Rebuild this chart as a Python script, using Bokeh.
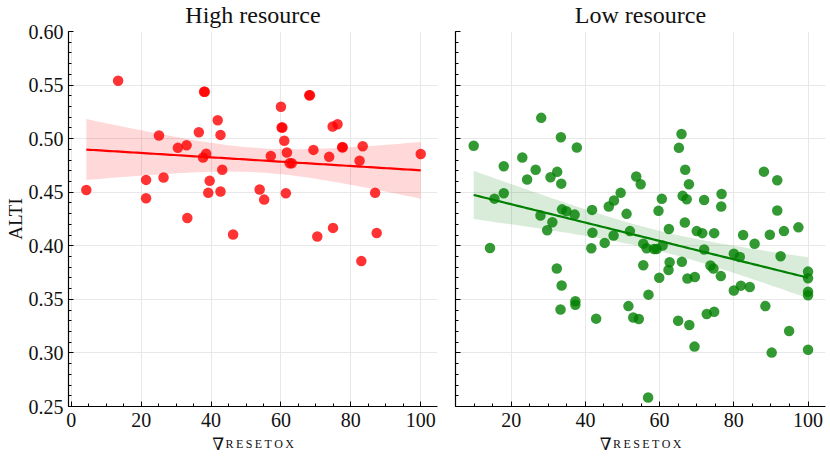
import numpy as np
from bokeh.plotting import figure
from bokeh.layouts import row, column
from bokeh.models import FixedTicker, Label, PrintfTickFormatter, Range1d
from bokeh.embed import file_html
from bokeh.resources import INLINE

# ---------------- data ----------------
titles = ["High resource", "Low resource"]
y_label = "ALTI"
x_label_main = "\u2207"
x_label_sub = "R\u2009E\u2009S\u2009E\u2009T\u2009O\u2009X"

y_ticks = [0.25, 0.30, 0.35, 0.40, 0.45, 0.50, 0.55, 0.60]
x_ticks_high = [0, 20, 40, 60, 80, 100]
x_ticks_low = [20, 40, 60, 80, 100]

high_x = [4.3, 13.4, 21.4, 21.4, 25.1, 26.4, 30.5, 33.0, 33.2, 36.5, 38.0, 38.2,
          37.7, 38.6, 39.6, 39.2, 41.9, 42.7, 42.7, 43.2, 46.3, 53.9, 55.2, 57.1,
          60.0, 60.2, 60.4, 60.95, 61.7, 61.4, 62.5, 63.1, 68.1, 68.3, 69.3, 70.4,
          73.8, 74.8, 76.2, 74.9, 77.5, 77.7, 82.5, 83.4, 83.0, 86.95, 87.4, 100.0]
high_y = [0.452, 0.554, 0.4615, 0.4444, 0.503, 0.4637, 0.4914, 0.4938, 0.426, 0.506,
          0.5437, 0.5437, 0.4824, 0.486, 0.4606, 0.4494, 0.5172, 0.5035, 0.4506, 0.4709,
          0.4105, 0.4525, 0.4431, 0.4839, 0.5297, 0.5104, 0.5104, 0.498, 0.487, 0.449,
          0.477, 0.477, 0.5405, 0.5405, 0.4895, 0.4086, 0.483, 0.5113, 0.5134, 0.4167,
          0.492, 0.492, 0.4793, 0.4929, 0.3857, 0.4494, 0.412, 0.4856]

low_x = [9.9, 15.5, 18.0, 18.0, 23.0, 24.3, 26.6, 28.1, 27.9, 30.6, 32.4, 33.4, 33.5,
         31.1, 33.7, 34.9, 37.1, 37.7, 41.8, 46.3, 47.7, 49.5, 51.1, 53.7, 54.9, 59.7,
         60.6, 65.2, 65.9, 66.9, 67.9, 66.2, 67.3, 66.8, 72.0, 76.7, 76.6, 88.1, 91.7,
         91.7,
         14.3, 29.7, 32.3, 33.6, 33.3, 37.3, 37.3, 41.9, 41.6, 42.9, 45.2, 47.6, 51.6,
         52.0, 52.9, 54.4, 55.6, 55.6, 56.5, 57.0, 56.9, 58.5, 59.2, 60.8, 59.9, 62.4,
         62.7, 62.5, 65.0, 66.0, 67.5, 68.0, 69.5, 69.4, 70.0, 71.5, 72.0, 72.7, 73.7,
         74.5, 74.7, 74.7, 76.5, 80.0, 81.6, 80.0, 81.9, 82.5, 84.3, 85.6, 88.5, 89.7,
         90.2, 92.6, 93.5, 94.9, 97.4, 100.0, 100.0, 100.0, 100.0, 100.0]
low_y = [0.4933, 0.444, 0.4743, 0.449, 0.4824, 0.4618, 0.4709, 0.5194, 0.4282, 0.464,
         0.469, 0.5013, 0.458, 0.422, 0.434, 0.4322, 0.4291, 0.4917, 0.4335, 0.4366,
         0.4422, 0.4494, 0.4298, 0.4646, 0.4575, 0.4326, 0.4438, 0.4914, 0.5044, 0.4709,
         0.4575, 0.4466, 0.4435, 0.4217, 0.4428, 0.4484, 0.4366, 0.4692, 0.4612, 0.4329,
         0.398, 0.4145, 0.3788, 0.3629, 0.3405, 0.3483, 0.3449, 0.4122, 0.3977, 0.332,
         0.4027, 0.4096, 0.3437, 0.4137, 0.3331, 0.3317, 0.3819, 0.402, 0.3977, 0.3544,
         0.2584, 0.397, 0.397, 0.4002, 0.3701, 0.3774, 0.3847, 0.4156, 0.3301, 0.385,
         0.3695, 0.326, 0.3708, 0.3059, 0.4137, 0.4118, 0.3965, 0.3364, 0.3816, 0.3788,
         0.4118, 0.3385, 0.3717, 0.3926, 0.3896, 0.3582, 0.3628, 0.41, 0.3615, 0.4019,
         0.3437, 0.4103, 0.3003, 0.3903, 0.4137, 0.3205, 0.4172, 0.3759, 0.3697, 0.3572,
         0.3538, 0.303]

FONT = "Liberation Serif"
TXT = "#111111"

W1, W2 = 446, 383          # widths of the two columns
TITLE_H = 31               # title strip
TOP_B, BOTTOM_B = 12, 30   # borders of the plot figures (top overlaps the title strip)
MAIN_H = TOP_B + 375 + BOTTOM_B
BOT_H, BOT_OVER = 29, 9    # x-label strip and its overlap with the plots


def reg_fit(x, y):
    x = np.asarray(x, float)
    y = np.asarray(y, float)
    n = len(x)
    b1, b0 = np.polyfit(x, y, 1)
    xs = np.linspace(x.min(), x.max(), 100)
    yhat = b0 + b1 * xs
    resid = y - (b0 + b1 * x)
    s = np.sqrt(np.sum(resid ** 2) / (n - 2))
    xm = x.mean()
    se = s * np.sqrt(1.0 / n + (xs - xm) ** 2 / np.sum((x - xm) ** 2))
    t = 1.96 + 2.4 / (n - 2)
    return xs, yhat, yhat - t * se, yhat + t * se


def text_strip(width, height):
    f = figure(width=width, height=height, output_backend="svg", toolbar_location=None,
               x_range=Range1d(0, width), y_range=Range1d(0, height),
               x_axis_type=None, y_axis_type=None,
               min_border_left=0, min_border_right=0, min_border_top=0,
               min_border_bottom=0)
    f.outline_line_color = None
    f.xgrid.visible = False
    f.ygrid.visible = False
    f.background_fill_color = None
    f.border_fill_color = None
    return f


def make_panel(xs_data, ys_data, color, x_ticks, x_range, width,
               border_left, border_right, show_ylabels):
    p = figure(width=width, height=MAIN_H, output_backend="svg", toolbar_location=None,
               x_range=Range1d(*x_range), y_range=Range1d(0.25, 0.60),
               min_border_left=border_left, min_border_right=border_right,
               min_border_top=TOP_B, min_border_bottom=BOTTOM_B)
    p.outline_line_color = None
    p.background_fill_color = None
    p.border_fill_color = None

    p.xaxis.ticker = FixedTicker(ticks=x_ticks,
                                 minor_ticks=list(np.arange(0, 106, 5)))
    p.yaxis.ticker = FixedTicker(ticks=y_ticks,
                                 minor_ticks=list(np.round(np.arange(0.25, 0.6001, 0.01), 2)))
    p.yaxis.formatter = PrintfTickFormatter(format="%.2f")
    for ax in (p.xaxis[0], p.yaxis[0]):
        ax.major_tick_in = 5
        ax.major_tick_out = 0
        ax.minor_tick_in = 3
        ax.minor_tick_out = 0
        ax.axis_line_color = "black"
        ax.axis_line_width = 1.2
        ax.major_tick_line_color = "black"
        ax.minor_tick_line_color = "black"
        ax.major_label_text_font = FONT
        ax.major_label_text_font_size = "20px"
        ax.major_label_text_color = TXT
        ax.major_label_standoff = 5
    p.yaxis.major_label_text_line_height = 1.0
    p.xaxis.major_label_standoff = 6
    if show_ylabels:
        p.yaxis.axis_label = y_label
        p.yaxis.axis_label_text_font = FONT
        p.yaxis.axis_label_text_font_size = "19px"
        p.yaxis.axis_label_text_font_style = "normal"
        p.yaxis.axis_label_text_line_height = 1.0
        p.yaxis.axis_label_text_color = TXT
        p.yaxis.axis_label_standoff = 0
    else:
        p.yaxis.major_label_overrides = {t: "" for t in y_ticks}
        p.yaxis.major_label_standoff = 0

    p.xgrid.grid_line_color = "#e8e8e8"
    p.ygrid.grid_line_color = "#e8e8e8"
    p.xgrid.ticker = FixedTicker(ticks=x_ticks)
    p.ygrid.ticker = FixedTicker(ticks=y_ticks)

    p.scatter(xs_data, ys_data, size=10.5, fill_color=color, fill_alpha=0.8,
              line_color=None)
    gx, gy, lo, hi = reg_fit(xs_data, ys_data)
    p.line(gx, gy, line_color=color, line_width=2.2)
    p.varea(x=gx, y1=lo, y2=hi, fill_color=color, fill_alpha=0.15)
    return p


def title_strip(width, center, title):
    f = text_strip(width, TITLE_H)
    f.add_layout(Label(x=center, y=17.0, text=title, text_align="center",
                       text_baseline="alphabetic", text_font=FONT,
                       text_font_size="24px", text_color=TXT))
    return f


def xlabel_strip(width, center):
    f = text_strip(width, BOT_H)
    f.add_layout(Label(x=center - 40.8, y=13.0, text=x_label_main,
                       text_align="left", text_baseline="alphabetic",
                       text_font="DejaVu Serif", text_font_size="17px",
                       text_color=TXT))
    f.add_layout(Label(x=center - 27.5, y=13.0, text=x_label_sub,
                       text_align="left", text_baseline="alphabetic", text_font=FONT,
                       text_font_size="12px", text_color=TXT))
    return f


p1 = make_panel(high_x, high_y, "red", x_ticks_high, (-0.8, 104.8), W1, 68, 9, True)
p2 = make_panel(low_x, low_y, "green", x_ticks_low, (5.0, 104.7), W2, 9, 4, False)

c1 = (68 + W1 - 9) / 2.0
c2 = (9 + W2 - 4) / 2.0
top_row = row(title_strip(W1, c1, titles[0]), title_strip(W2, c2, titles[1]))
mid_row = row(p1, p2, margin=(-TOP_B, 0, 0, 0))
bot_row = row(xlabel_strip(W1, c1), xlabel_strip(W2, c2), margin=(-BOT_OVER, 0, 0, 0))

layout = column(top_row, mid_row, bot_row)
open("out.html", "w").write(file_html(layout, INLINE))
